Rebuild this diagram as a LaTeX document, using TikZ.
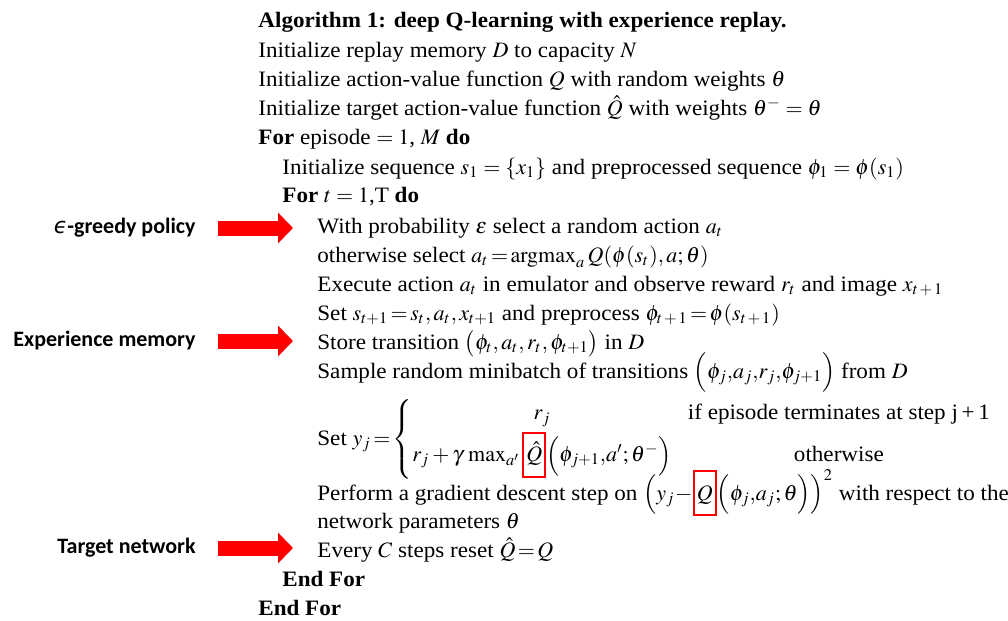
\documentclass[tikz,border=0pt]{standalone}
\usepackage{amsmath}
\usepackage{mathptmx}
\usepackage{fontspec}
\setmainfont{Liberation Serif}[BoldFont={Liberation Serif Bold},ItalicFont={Liberation Serif Italic},FakeStretch=1.05]
\newfontfamily\sidefamily{Carlito}
\newfontfamily\greekfamily{DejaVu Sans}
\usepackage{tikz}
\usetikzlibrary{arrows.meta,%
                positioning}

\newcommand{\algfont}{\fontsize{11}{13}\selectfont}
\newcommand{\sidefont}{\fontsize{11}{13}\selectfont\sidefamily\bfseries}
\newcommand{\redbox}[1]{\mbox{\color{red}\fboxrule=1pt\fboxsep=1pt\fbox{\color{black}\raisebox{0pt}[13pt][6pt]{$#1$}}}}

\begin{document}
\begin{tikzpicture}[x=0.5pt,y=-0.5pt,
  algline/.style={anchor=base west,inner sep=0pt,font=\algfont},
  sidelabel/.style={anchor=east,inner sep=0pt,font=\sidefont},
  redarrow/.style={draw=red,line width=7.5pt,-{Triangle[length=7.5pt,width=15pt]},shorten <=11pt,shorten >=12pt}]
\useasboundingbox (0,0) rectangle (1008,621);
%algorithm lines
\node[algline] (ln-title) at (258,27) {\textbf{Algorithm 1: deep Q-learning with experience replay.}};
\node[algline] (ln-memory) at (258,57) {Initialize replay memory $D$ to capacity $N$};
\node[algline] (ln-qinit) at (258,86) {Initialize action-value function $Q$ with random weights $\theta$};
\node[algline] (ln-target) at (258,115) {Initialize target action-value function $\hat{Q}$ with weights $\theta^{-}=\theta$};
\node[algline] (ln-episode) at (258,144) {\textbf{For} episode $=1$, $M$ \textbf{do}};
\node[algline] (ln-seq) at (282,174) {Initialize sequence $s_1=\{x_1\}$ and preprocessed sequence $\phi_1=\phi(s_1)$};
\node[algline] (ln-fort) at (282,202) {\textbf{For} $t=1$,T \textbf{do}};
\node[algline] (ln-eps) at (317,233) {With probability $\varepsilon$ select a random action $a_t$};
\node[algline] (ln-argmax) at (317,262) {otherwise select $a_t\!=\!\operatorname{argmax}_a Q(\phi(s_t),a;\theta)$};
\node[algline] (ln-exec) at (317,291) {Execute action $a_t$ in emulator and observe reward $r_t$ and image $x_{t\,+\,1}$};
\node[algline] (ln-set) at (317,320) {Set $s_{t+1}\!=\!s_t,a_t,x_{t+1}$ and preprocess $\phi_{t\,+\,1}\!=\!\phi(s_{t\,+\,1})$};
\node[algline] (ln-store) at (317,349) {Store transition $\big(\phi_t,a_t,r_t,\phi_{t+1}\big)$ in $D$};
\node[algline] (ln-sample) at (317,378) {Sample random minibatch of transitions $\Big(\phi_j{,}a_j{,}r_j{,}\phi_{j+1}\Big)$ from $D$};
\node[algline] (ln-yj) at (317,445) {Set $y_j\!=\!\left\{\begin{array}{@{}c@{\hspace{8pt}}c@{}}
  r_j & \text{if episode terminates at step j\,+\,1}\\[2pt]
  r_j+\gamma\,\max_{a'}\redbox{\hat{Q}}\Big(\phi_{j+1}{,}a';\theta^{-}\Big) & \text{otherwise}
  \end{array}\right.$};
\node[algline] (ln-grad) at (317,500) {Perform a gradient descent step on $\Big(y_j\!-\!\redbox{Q}\Big(\phi_j{,}a_j;\theta\Big)\Big)^{2}$ with respect to the};
\node[algline] (ln-params) at (317,528) {network parameters $\theta$};
\node[algline] (ln-reset) at (317,557) {Every $C$ steps reset $\hat{Q}\!=\!Q$};
\node[algline] (ln-endt) at (282,586) {\textbf{End For}};
\node[algline] (ln-endep) at (258,615) {\textbf{End For}};
%side labels
\node[sidelabel] (lb-greedy) at (196,228) {{\greekfamily\mdseries\itshape ϵ}-greedy policy};
\node[sidelabel] (lb-memory) at (196,341) {Experience memory};
\node[sidelabel] (lb-target) at (196,548) {Target network};
\draw[redarrow] (lb-greedy.east) -- (lb-greedy.east -| ln-eps.west);
\draw[redarrow] (lb-memory.east) -- (lb-memory.east -| ln-store.west);
\draw[redarrow] (lb-target.east) -- (lb-target.east -| ln-reset.west);
\end{tikzpicture}
\end{document}
